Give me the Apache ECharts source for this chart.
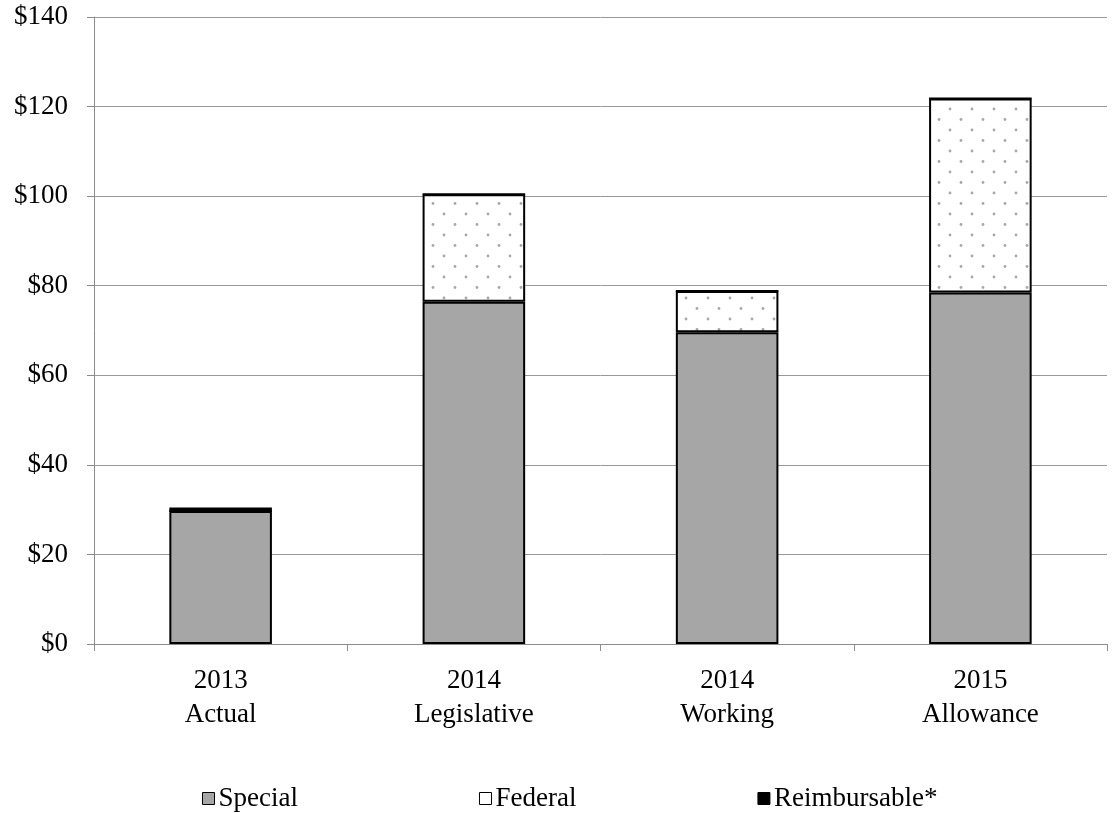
<!DOCTYPE html>
<html>
<head>
<meta charset="utf-8">
<script src="https://cdn.jsdelivr.net/npm/echarts@6/dist/echarts.min.js"></script>
<style>
  html, body { margin: 0; padding: 0; background: #fff; }
  #chart { width: 1117px; height: 813px; }
</style>
</head>
<body>
<div id="chart"></div>
<script>
const categories = ['2013\nActual', '2014\nLegislative', '2014\nWorking', '2015\nAllowance'];
const special = [29.7, 76.4, 69.6, 78.5];
const federal = [0, 24.0, 9.2, 43.3];
const reimbursable = [0.8, 0, 0, 0];
const yTicks = { min: 0, max: 140, interval: 20 };

const font = 'Liberation Serif, Times New Roman, serif';

// dotted fill for the federal part
function dotPattern() {
  const c = document.createElement('canvas');
  c.width = 22;
  c.height = 21;
  const ctx = c.getContext('2d');
  ctx.fillStyle = '#fff';
  ctx.fillRect(0, 0, 22, 21);
  ctx.fillStyle = '#a8a8a8';
  ctx.beginPath(); ctx.arc(4, 4, 1.4, 0, Math.PI * 2); ctx.fill();
  ctx.beginPath(); ctx.arc(15, 14.5, 1.4, 0, Math.PI * 2); ctx.fill();
  return c;
}

const myChart = echarts.init(document.getElementById('chart'));
const barStyle = { borderColor: '#000', borderWidth: 2 };

myChart.setOption({
  animation: false,
  grid: { left: 94, right: 10, top: 17, bottom: 169 },
  legend: {
    left: 197,
    top: 780,
    itemWidth: 12,
    itemHeight: 12,
    itemGap: 181,
    icon: 'rect',
    textStyle: { fontFamily: font, fontSize: 27, color: '#000', padding: [0, 0, 0, -1] },
    data: [
      { name: 'Special', itemStyle: { color: '#a6a6a6', borderColor: '#000', borderWidth: 1 } },
      { name: 'Federal', itemStyle: { color: '#fff', borderColor: '#000', borderWidth: 1 } },
      { name: 'Reimbursable*', itemStyle: { color: '#000', borderColor: '#000', borderWidth: 1 } }
    ]
  },
  xAxis: {
    type: 'category',
    data: categories,
    axisLine: { lineStyle: { color: '#8c8c8c', width: 1 } },
    axisTick: { show: true, length: 7, lineStyle: { color: '#8c8c8c' } },
    axisLabel: { fontFamily: font, fontSize: 27, color: '#000', margin: 20, lineHeight: 34 }
  },
  yAxis: {
    type: 'value',
    min: yTicks.min,
    max: yTicks.max,
    interval: yTicks.interval,
    axisLine: { show: true, lineStyle: { color: '#8c8c8c', width: 1 } },
    axisTick: { show: true, length: 7, lineStyle: { color: '#8c8c8c' } },
    splitLine: { lineStyle: { color: '#999', width: 1 } },
    axisLabel: {
      fontFamily: font, fontSize: 27, color: '#000', margin: 26,
      formatter: v => '$' + v
    }
  },
  series: [
    {
      name: 'Special', type: 'bar', stack: 'total', data: special,
      barWidth: '40.5%',
      itemStyle: Object.assign({ color: '#a6a6a6' }, barStyle)
    },
    {
      name: 'Federal', type: 'bar', stack: 'total', data: federal,
      itemStyle: Object.assign({ color: { image: dotPattern(), repeat: 'repeat' } }, barStyle)
    },
    {
      name: 'Reimbursable*', type: 'bar', stack: 'total', data: reimbursable,
      itemStyle: Object.assign({ color: '#000' }, barStyle)
    }
  ]
});
</script>
</body>
</html>
